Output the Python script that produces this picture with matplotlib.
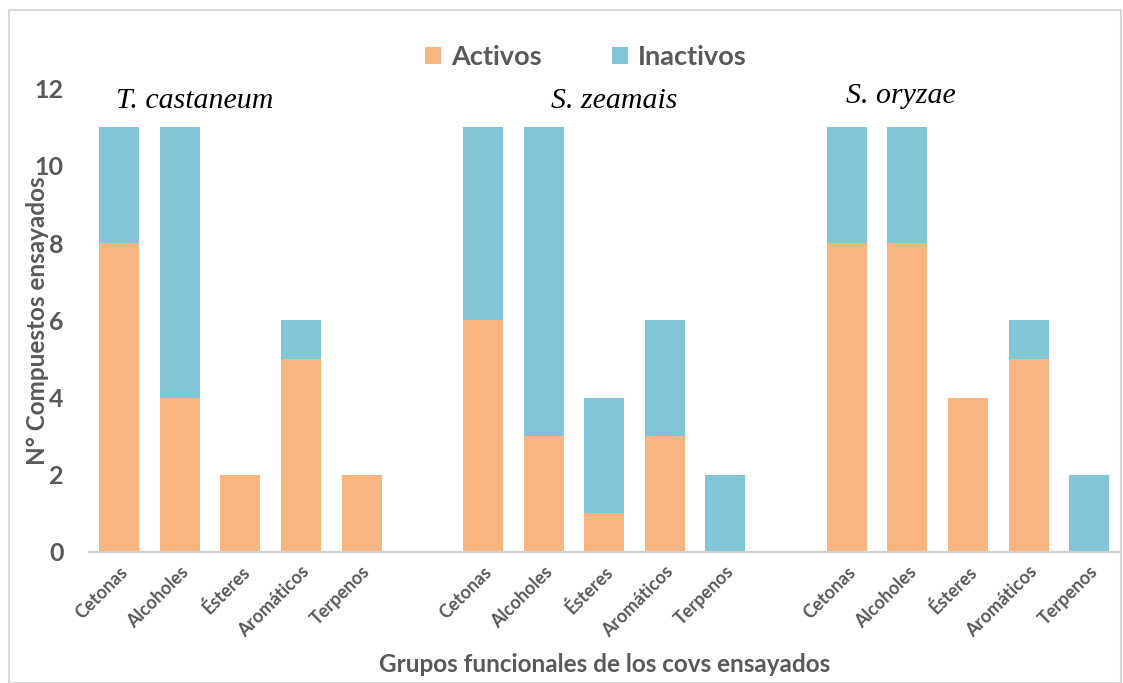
import matplotlib.pyplot as plt
from matplotlib.patches import Rectangle

grupos = ['Cetonas', 'Alcoholes', 'Ésteres', 'Aromáticos', 'Terpenos']
especies = ['T. castaneum', 'S. zeamais', 'S. oryzae']

# compuestos activos / inactivos por grupo funcional y especie
activos_tc = [8, 4, 2, 5, 2]
inactivos_tc = [3, 7, 0, 1, 0]
activos_sz = [6, 3, 1, 3, 0]
inactivos_sz = [5, 8, 3, 3, 2]
activos_so = [8, 8, 4, 5, 0]
inactivos_so = [3, 3, 0, 1, 2]

c_act = '#F8B57F'
c_inact = '#82C5D6'
gris = '#595959'
fuente = ['Lato', 'DejaVu Sans']

fig = plt.figure(figsize=(11.23, 6.83), dpi=100)
ax = fig.add_axes([0.079, 0.192, 0.918, 0.678])

activos = activos_tc + activos_sz + activos_so
inactivos = inactivos_tc + inactivos_sz + inactivos_so
# un hueco entre especies
x = [i + 6 * g for g in range(3) for i in range(5)]

ax.bar(x, activos, width=0.66, color=c_act, label='Activos')
ax.bar(x, inactivos, width=0.66, bottom=activos, color=c_inact, label='Inactivos')

ax.set_xlim(-0.5, 16.5)
ax.set_ylim(0, 12)
ax.set_yticks(range(0, 13, 2))
ax.set_xticks(x)
ax.set_xticklabels(grupos * 3, rotation=45, ha='right', rotation_mode='anchor',
                   fontsize=13, fontweight='bold', color=gris, family=fuente)
for t in ax.get_yticklabels():
    t.set_fontsize(18)
    t.set_fontweight('bold')
    t.set_color(gris)
    t.set_family(fuente)
ax.tick_params(axis='both', length=0)
ax.tick_params(axis='y', pad=18)
ax.tick_params(axis='x', pad=8)

for s in ['top', 'right', 'left']:
    ax.spines[s].set_visible(False)
ax.spines['bottom'].set_color('#D0D0D0')
ax.spines['bottom'].set_linewidth(1.5)

ax.set_ylabel('N° Compuestos ensayados', fontsize=17.5, fontweight='bold',
              color=gris, family=fuente, labelpad=-10)
ax.set_xlabel('Grupos funcionales de los covs ensayados', fontsize=17.5,
              fontweight='bold', color=gris, family=fuente, labelpad=9)

# nombres de especie sobre cada grupo
pos_esp = [(1.25, 11.68), (8.17, 11.68), (12.9, 11.82)]
for nombre, (px, py) in zip(especies, pos_esp):
    ax.text(px, py, nombre, ha='center', va='center', fontsize=21.5,
            style='italic', family='Liberation Serif', color='black')

leg = ax.legend(loc='center', bbox_to_anchor=(0.482, 1.069), ncol=2, frameon=False,
                prop={'family': fuente, 'size': 19.5, 'weight': 'bold'},
                handlelength=0.6, handleheight=0.6, handletextpad=0.35,
                columnspacing=2.6)
for t in leg.get_texts():
    t.set_color(gris)

# marco del gráfico
fig.patches.append(Rectangle((9 / 1123, 0), 1112 / 1123, 673 / 683,
                             transform=fig.transFigure, fill=False,
                             edgecolor='#D9D9D9', linewidth=1.5))

fig.savefig('out.png', dpi=100)
